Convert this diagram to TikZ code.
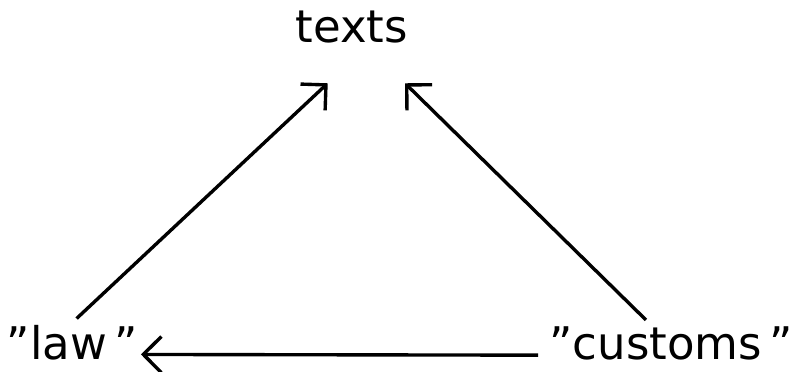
\documentclass[tikz,border=0pt]{standalone}
\usepackage{fontspec}
\setmainfont{DejaVu Sans}
\usepackage{tikz}
\usetikzlibrary{arrows.meta,positioning,calc}
\tikzset{
  szo/.style={inner sep=0pt,anchor=base,font=\fontsize{32}{38}\selectfont},
  nyil/.style={line width=2.4pt,-{Straight Barb[length=4.5mm,width=9mm,line width=2.4pt]}},
}

\begin{document}
\begin{tikzpicture}
  \useasboundingbox (0,0) rectangle (20,9.3);
  \node[szo] (texts) at (8.79,8.225) {texts};
  \node[szo] (law) at (1.81,0.3) {"law\,"};
  \node[szo] (customs) at (16.78,0.3) {"customs\,"};
  \draw[nyil] ([xshift=3pt,yshift=5pt]law.north) -- ([xshift=-17pt,yshift=-28pt]texts.south);
  \draw[nyil] ([xshift=-18pt,yshift=5pt]customs.north) -- ([xshift=38pt,yshift=-28pt]texts.south);
  \draw[nyil] ([xshift=-8pt,yshift=-8pt]customs.west) -- ([xshift=2pt,yshift=-8pt]law.east);
\end{tikzpicture}
\end{document}
